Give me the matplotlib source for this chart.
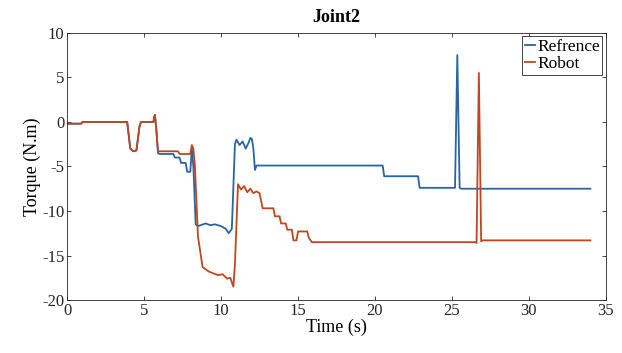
import matplotlib
matplotlib.use("Agg")
import matplotlib.pyplot as plt

# Reference (blue)
ref_t = [0, 0.9, 1.0, 3.9, 4.1, 4.3, 4.5, 4.7, 4.8, 5.6, 5.7, 5.8, 5.9, 6.0, 6.9, 7.0, 7.3, 7.4, 7.7, 7.8,
         8.0, 8.1, 8.2, 8.35, 8.5, 9.0, 9.3, 9.6, 10.0, 10.3, 10.5, 10.7, 10.9, 11.0, 11.2, 11.4, 11.6,
         11.8, 11.9, 12.0, 12.1, 12.2, 12.3, 20.5, 20.6, 22.8, 22.9, 25.2, 25.35, 25.5, 25.6, 34.0]
ref_v = [-0.2, -0.2, 0, 0, -3.0, -3.3, -3.2, -0.5, 0, 0, 0.8, -1.0, -3.5, -3.6, -3.6, -4.0, -4.0, -4.6, -4.6, -5.6,
         -5.6, -3.0, -5.0, -11.5, -11.7, -11.4, -11.6, -11.5, -11.7, -12.0, -12.5, -12.0, -2.5, -2.0, -2.6, -2.2, -3.0,
         -2.3, -1.8, -1.9, -3.0, -5.4, -4.9, -4.9, -6.1, -6.1, -7.4, -7.4, 7.5, -7.4, -7.5, -7.5]

# Robot (red)
rob_t = [0, 0.9, 1.0, 3.9, 4.1, 4.3, 4.5, 4.7, 4.8, 5.6, 5.7, 5.8, 5.9, 6.0, 7.2, 7.3, 8.0, 8.1, 8.2, 8.3,
         8.5, 8.8, 9.2, 9.5, 9.8, 10.1, 10.4, 10.6, 10.8, 10.9, 11.1, 11.3, 11.5, 11.7, 11.9, 12.1, 12.3,
         12.5, 12.7, 13.4, 13.5, 13.8, 13.9, 14.2, 14.3, 14.6, 14.7, 14.9, 15.0, 15.6, 15.7, 15.9,
         26.5, 26.6, 26.75, 26.9, 27.0, 34.0]
rob_v = [-0.2, -0.2, 0, 0, -3.0, -3.3, -3.2, -0.5, 0, 0, 0.8, -1.0, -3.3, -3.3, -3.3, -3.6, -3.6, -2.6, -3.0, -5.0,
         -12.9, -16.3, -16.8, -17.0, -17.2, -17.1, -17.6, -17.5, -18.5, -16.0, -7.0, -7.6, -7.2, -7.9, -7.5, -8.0, -7.8,
         -8.0, -9.7, -9.7, -10.6, -10.6, -11.4, -11.4, -12.1, -12.1, -13.3, -13.3, -12.3, -12.3, -13.0, -13.5,
         -13.5, -13.6, 5.5, -13.4, -13.3, -13.3]

x_ticks = [0, 5, 10, 15, 20, 25, 30, 35]
y_ticks = [-20, -15, -10, -5, 0, 5, 10]

plt.rcParams['font.family'] = ['Liberation Serif', 'DejaVu Serif']
plt.rcParams['axes.unicode_minus'] = False

fig = plt.figure(figsize=(6.22, 3.53), dpi=100)
ax = fig.add_axes([0.108, 0.150, 0.866, 0.757])

ax.plot(ref_t, ref_v, color='#2a63a6', lw=1.3, label='Refrence')
ax.plot(rob_t, rob_v, color='#c0461f', lw=1.3, label='Robot')

ax.set_xlim(0, 35)
ax.set_ylim(-20, 10)
ax.set_xticks(x_ticks)
ax.set_yticks(y_ticks)
ax.tick_params(direction='in', length=3, top=True, right=True, labelsize=12,
               colors='#262626', width=0.6, pad=2)
for s in ax.spines.values():
    s.set_color('#262626')
    s.set_linewidth(0.6)

ax.set_xlabel('Time (s)', fontsize=13, labelpad=0)
ax.set_ylabel('Torque (N.m)', fontsize=13, labelpad=1)
ax.set_title('Joint2', fontsize=13, fontweight='bold', pad=8)

leg = ax.legend(loc='upper right', fontsize=12.5, handlelength=0.6, handletextpad=0.1,
                borderpad=0.15, labelspacing=0.05, fancybox=False, framealpha=1,
                borderaxespad=0.2)
leg.get_frame().set_edgecolor('#262626')
leg.get_frame().set_linewidth(0.6)

fig.savefig('out.png', dpi=100)
